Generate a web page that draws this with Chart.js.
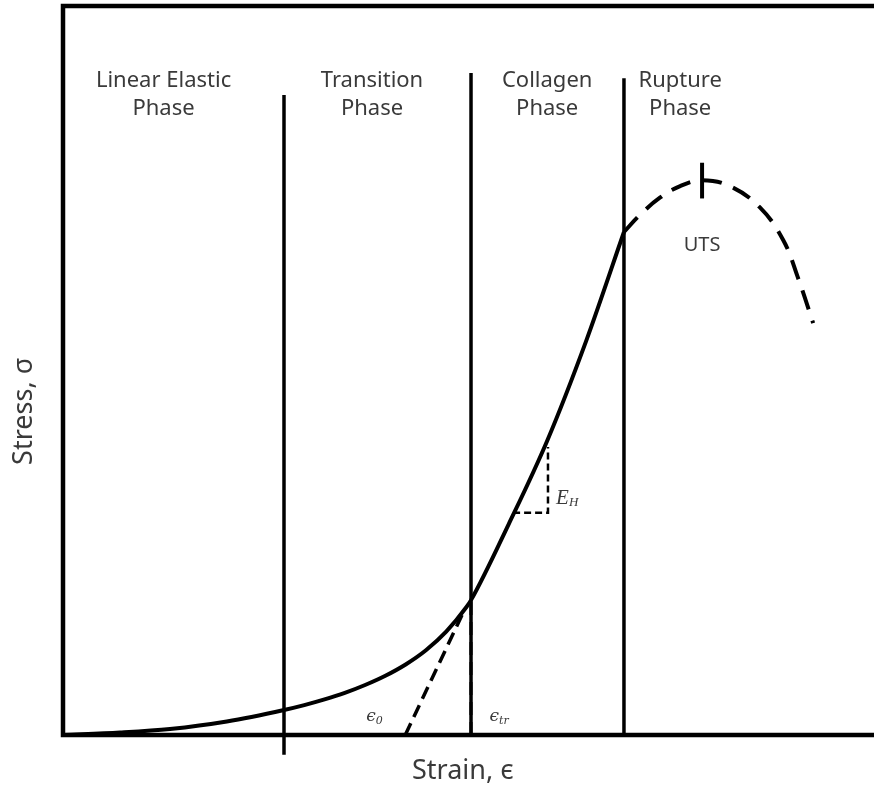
<!DOCTYPE html>
<html>
<head>
<meta charset="utf-8">
<title>Stress–Strain Phases</title>
<script src="https://cdn.jsdelivr.net/npm/chart.js@4.4.1/dist/chart.umd.min.js"></script>
<style>
  html, body { margin: 0; padding: 0; background: #ffffff; }
  #wrap { width: 874px; height: 788px; }
</style>
</head>
<body>
<div id="wrap"><canvas id="c" width="874" height="788"></canvas></div>
<script>
// Normalised strain (x) and stress (y), both on a 0–100 scale.

// Toe + linear region of the loading curve (solid)
const curveStrain = [0, 7.03, 13.19, 20.2, 27.25, 29.75, 32.25, 34.75, 37.25, 39.75, 42.25, 44.75, 47.25, 49.75, 50.31, 54.99, 59.68, 64.49, 69.17];
const curveStress = [0, 0.34, 0.82, 1.85, 3.43, 4.10, 4.88, 5.78, 6.86, 8.13, 9.68, 11.63, 14.18, 17.56, 18.50, 29.0, 40.3, 54.0, 69.0];

// Rupture region (dashed)
const ruptureStrain = [69.17, 71.1, 73.6, 76.1, 78.8, 82.2, 85.9, 88.8, 90.6, 92.5];
const ruptureStress = [69.0, 71.3, 73.7, 75.3, 76.1, 75.3, 72.4, 67.9, 62.8, 56.5];

// Phase boundaries (strain) and their top / bottom extents (stress)
const boundaryStrain = [27.25, 50.31, 69.17];
const boundaryTop    = [87.8, 90.8, 90.1];
const boundaryBottom = [-2.7, 0, 0];

// Phase names, one entry per phase, two lines each
const phaseNames  = [["Linear Elastic", "Phase"], ["Transition", "Phase"], ["Collagen", "Phase"], ["Rupture", "Phase"]];
const phaseCentre = [12.4, 38.1, 59.7, 76.1];

// Tangent from ε0 up to where it meets the curve
const tangentStrain = [42.2, 49.2];
const tangentStress = [0, 16.45];

// Transition strain marker
const trStrain = 50.31;
const trStress = 18.5;

// Modulus triangle in the collagen region
const ehStrain = [55.5, 59.8, 59.8];
const ehStress = [30.5, 30.5, 39.5];

// Ultimate tensile strength marker
const utsStrain = 78.8;
const utsStress = [73.6, 78.5];

const toPts = (xs, ys) => xs.map((x, i) => ({ x: x, y: ys[i] }));

const datasets = [
  {
    data: toPts(curveStrain, curveStress),
    borderColor: '#000', borderWidth: 4, cubicInterpolationMode: 'monotone'
  },
  {
    data: toPts(ruptureStrain, ruptureStress),
    borderColor: '#000', borderWidth: 4, borderDash: [20, 12], tension: 0.4
  },
  {
    data: toPts(tangentStrain, tangentStress),
    borderColor: '#000', borderWidth: 3.5, borderDash: [13, 7]
  },
  {
    data: toPts([trStrain, trStrain], [0, trStress]),
    borderColor: '#000', borderWidth: 3, borderDash: [13, 7]
  },
  {
    data: toPts(ehStrain, ehStress),
    borderColor: '#000', borderWidth: 2.5, borderDash: [7, 4]
  },
  {
    data: toPts([utsStrain, utsStrain], utsStress),
    borderColor: '#000', borderWidth: 4
  }
];
boundaryStrain.forEach((x, i) => {
  datasets.push({
    data: toPts([x, x], [boundaryBottom[i], boundaryTop[i]]),
    borderColor: '#000', borderWidth: 3.5
  });
});
datasets.forEach(d => { d.showLine = true; d.pointRadius = 0; d.fill = false; d.clip = false; });

// Frame and annotations drawn against the chart scales
const annotate = {
  id: 'annotate',
  afterDatasetsDraw(chart) {
    const { ctx, scales: { x, y } } = chart;
    const px = v => x.getPixelForValue(v);
    const py = v => y.getPixelForValue(v);
    ctx.save();

    // Frame: left axis, bottom axis, top rule
    ctx.strokeStyle = '#000';
    ctx.lineWidth = 4.5;
    ctx.lineCap = 'square';
    ctx.beginPath();
    ctx.moveTo(px(100), py(100));
    ctx.lineTo(px(0), py(100));
    ctx.lineTo(px(0), py(0));
    ctx.lineTo(px(100), py(0));
    ctx.stroke();

    ctx.fillStyle = '#3a3a3a';
    ctx.textAlign = 'center';
    ctx.textBaseline = 'middle';

    // Phase names
    ctx.font = '22px "Noto Sans", sans-serif';
    phaseNames.forEach((lines, i) => {
      lines.forEach((t, j) => ctx.fillText(t, px(phaseCentre[i]), py(89.8) + j * 28));
    });

    // UTS
    ctx.font = '20px "Noto Sans", sans-serif';
    ctx.fillText('UTS', px(utsStrain), py(67.2));

    // Axis titles
    ctx.font = '27px "Noto Sans", sans-serif';
    ctx.fillText('Strain, \u03F5', px(49.3), py(-5));
    ctx.save();
    ctx.translate(24, py(44.4));
    ctx.rotate(-Math.PI / 2);
    ctx.fillText('Stress, \u03C3', 0, 0);
    ctx.restore();

    // Strain markers with subscripts
    const sub = (base, s, xv, yv, bigFont, smallFont) => {
      ctx.textAlign = 'left';
      ctx.font = bigFont;
      const w = ctx.measureText(base).width;
      ctx.fillText(base, px(xv), py(yv));
      ctx.font = smallFont;
      ctx.fillText(s, px(xv) + w, py(yv) + 4);
    };
    sub('\u03F5', '0', 37.4, 2.5, 'italic 17px "DejaVu Serif", serif', 'italic 11px "DejaVu Serif", serif');
    sub('\u03F5', 'tr', 52.6, 2.5, 'italic 17px "DejaVu Serif", serif', 'italic 11px "DejaVu Serif", serif');
    sub('E', 'H', 60.8, 32.4, 'italic 21px "Liberation Serif", serif', 'italic 13px "Liberation Serif", serif');

    ctx.restore();
  }
};

new Chart(document.getElementById('c'), {
  type: 'scatter',
  data: { datasets: datasets },
  options: {
    responsive: false,
    animation: false,
    devicePixelRatio: 1,
    layout: { padding: { left: 63, top: 6, right: 0, bottom: 53 } },
    plugins: { legend: { display: false }, tooltip: { enabled: false } },
    scales: {
      x: { type: 'linear', min: 0, max: 100, display: false },
      y: { type: 'linear', min: 0, max: 100, display: false }
    }
  },
  plugins: [annotate]
});
</script>
</body>
</html>
